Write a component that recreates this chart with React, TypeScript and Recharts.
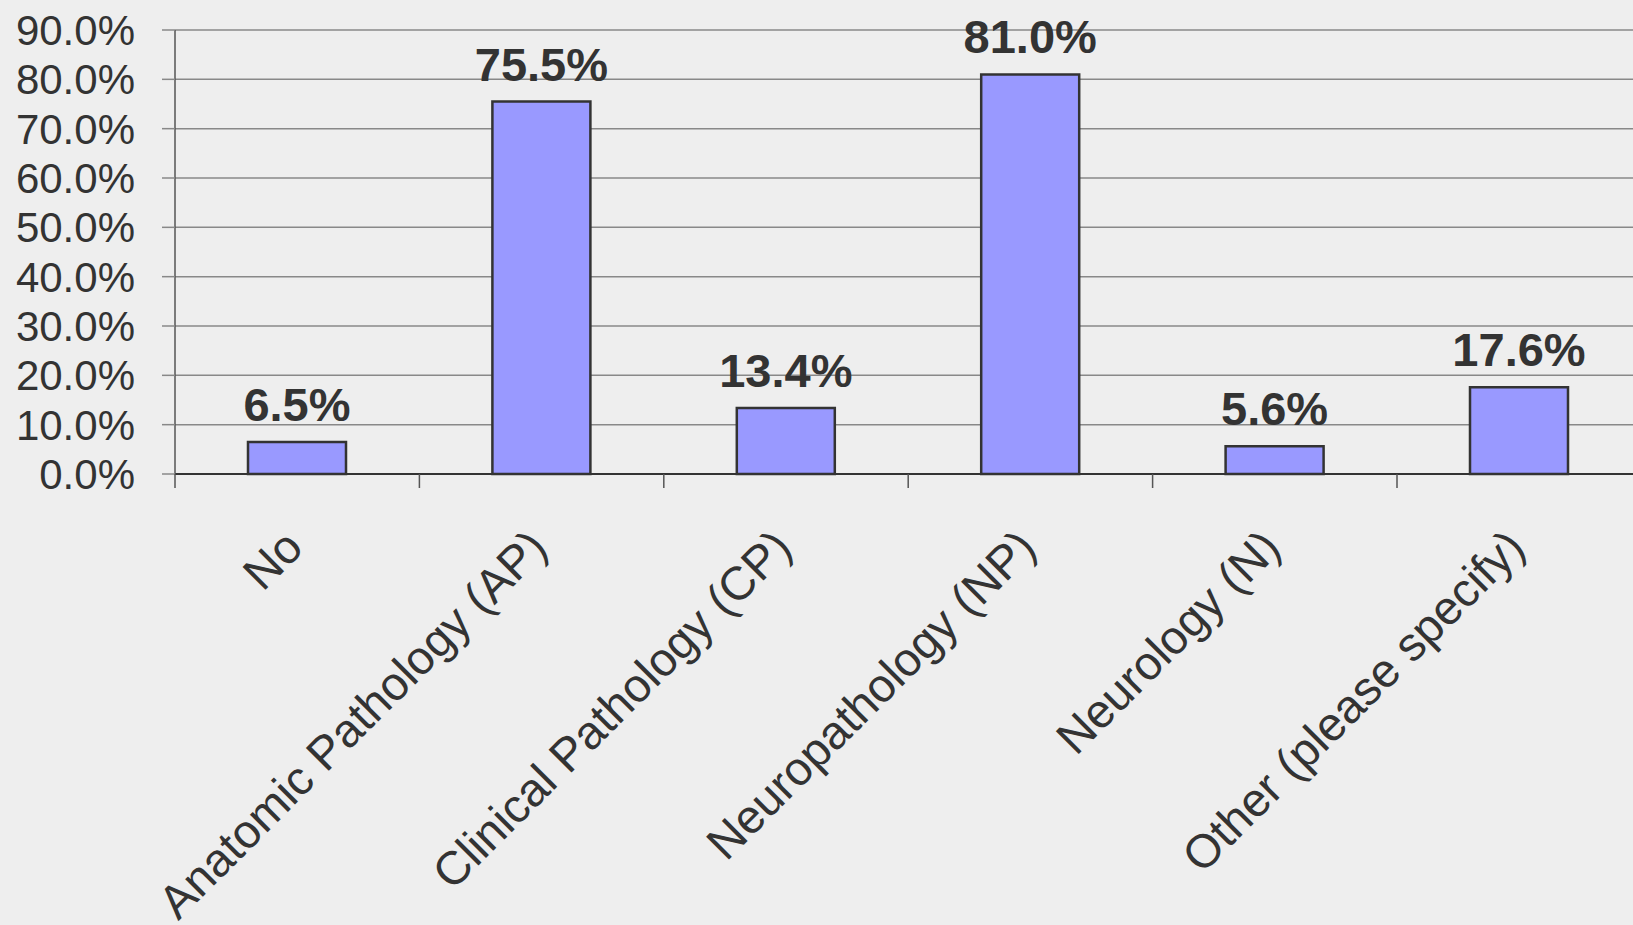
import React from "react";
import { BarChart, Bar, XAxis, YAxis, CartesianGrid, LabelList } from "recharts";

const categories = [
  "No",
  "Anatomic Pathology (AP)",
  "Clinical Pathology (CP)",
  "Neuropathology (NP)",
  "Neurology (N)",
  "Other (please specify)",
];
const percentValues = [6.5, 75.5, 13.4, 81.0, 5.6, 17.6];
const yTicks = [0, 10, 20, 30, 40, 50, 60, 70, 80, 90];

const data = categories.map((name, i) => ({ name, value: percentValues[i] }));

const FONT = '"Liberation Sans", Arial, Helvetica, sans-serif';
const TEXT = "#333333";

const CategoryTick = (props: any) => {
  const { x, y, payload } = props;
  const half = payload?.offset || 122.2;
  return (
    <g>
      {/* boundary tick on the left side of each category */}
      <line x1={x - half} x2={x - half} y1={y} y2={y + 14} stroke="#555" strokeWidth={1.5} />
      <text
        transform={`translate(${x + 8}, ${y + 76}) rotate(-45)`}
        textAnchor="end"
        fill={TEXT}
        fontSize={47}
        fontFamily={FONT}
      >
        {payload.value}
      </text>
    </g>
  );
};

export default function App() {
  return (
    <div
      style={{
        position: "absolute",
        left: 0,
        top: 0,
        width: 1633,
        height: 925,
        overflow: "hidden",
        background: "#eeeeee",
      }}
    >
      <BarChart
        width={1660}
        height={925}
        data={data}
        margin={{ top: 30, right: 18.6, left: 0, bottom: 0 }}
      >
        <CartesianGrid vertical={false} stroke="#888" strokeWidth={1.5} />
        <XAxis
          dataKey="name"
          interval={0}
          height={451}
          tickSize={0}
          tickMargin={0}
          tickLine={false}
          axisLine={{ stroke: "#333", strokeWidth: 2 }}
          tick={<CategoryTick />}
        />
        <YAxis
          domain={[0, 90]}
          ticks={yTicks}
          width={175}
          interval={0}
          tickSize={13}
          tickMargin={27}
          tickLine={{ stroke: "#888", strokeWidth: 1.5 }}
          axisLine={{ stroke: "#555", strokeWidth: 1.5 }}
          tickFormatter={(v: number) => `${v.toFixed(1)}%`}
          tick={{ fill: TEXT, fontSize: 42, fontFamily: FONT }}
        />
        <Bar
          dataKey="value"
          fill="#9999ff"
          stroke="#333"
          strokeWidth={2.5}
          barSize={98}
          isAnimationActive={false}
        >
          <LabelList
            dataKey="value"
            position="top"
            offset={21}
            formatter={(v: any) => `${Number(v).toFixed(1)}%`}
            fill={TEXT}
            fontSize={47}
            fontWeight="bold"
            fontFamily={FONT}
          />
        </Bar>
      </BarChart>
    </div>
  );
}
